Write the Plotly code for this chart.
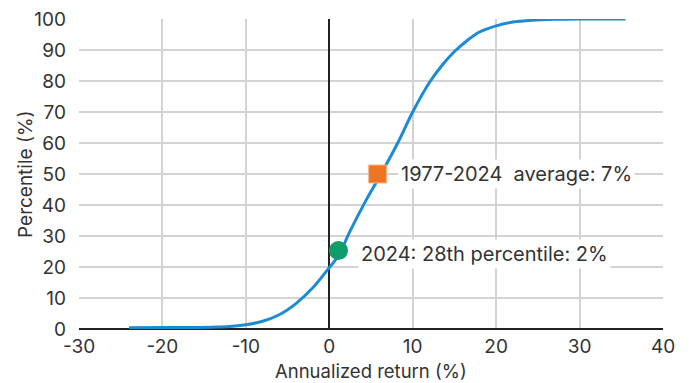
import plotly.graph_objects as go

# Cumulative distribution of annualized returns
returns = [-24, -20, -16, -14, -12, -10, -8, -6, -4, -2, 0, 1.2, 2.3, 4.3, 6.2, 8.2, 10,
           12, 13.5, 15, 16.5, 18, 20, 22, 24.3, 27, 30, 35.5]
percentiles = [0.4, 0.45, 0.5, 0.6, 0.8, 1.4, 2.5, 4.6, 8.2, 13.2, 19.8, 24, 30.5, 41, 50, 60, 70,
               79.5, 85, 89.5, 93, 95.8, 97.8, 99, 99.6, 99.9, 100, 100]

avg_point = [5.8, 50]
avg_label = "1977-2024  average: 7%"
cur_point = [1.1, 25.3]
cur_label = "2024: 28th percentile: 2%"

x_ticks = [-30, -20, -10, 0, 10, 20, 30, 40]
y_ticks = [0, 10, 20, 30, 40, 50, 60, 70, 80, 90, 100]
x_title = "Annualized return (%)"
y_title = "Percentile (%)"

FONT = "Inter"
TXT = "#333333"
fig = go.Figure()
fig.add_trace(go.Scatter(x=returns, y=percentiles, mode="lines",
                         line=dict(color="#1b8bd6", width=3, shape="spline", smoothing=0.9),
                         hoverinfo="skip", showlegend=False))
fig.add_trace(go.Scatter(x=[avg_point[0]], y=[avg_point[1]], mode="markers",
                         marker=dict(symbol="square", size=18, color="#ee7623",
                                     line=dict(color="#f5b58a", width=1)),
                         showlegend=False))
fig.add_trace(go.Scatter(x=[cur_point[0]], y=[cur_point[1]], mode="markers",
                         marker=dict(symbol="circle", size=19, color="#0f9d6a",
                                     line=dict(width=0)),
                         showlegend=False))

fig.add_annotation(x=avg_point[0], y=avg_point[1], text=avg_label, showarrow=False,
                   xanchor="left", yanchor="middle", xshift=20, bgcolor="white",
                   borderpad=2, font=dict(family=FONT, size=20, color=TXT))
fig.add_annotation(x=cur_point[0], y=cur_point[1], text=cur_label, showarrow=False,
                   xanchor="left", yanchor="middle", xshift=20, yshift=-3, bgcolor="white",
                   borderpad=2, font=dict(family=FONT, size=20, color=TXT))

# axis titles placed as paper annotations
fig.add_annotation(xref="paper", yref="paper", x=0.5, y=-0.136, text=x_title,
                   showarrow=False, xanchor="center", yanchor="middle",
                   font=dict(family=FONT, size=18.5, color=TXT))
fig.add_annotation(xref="paper", yref="paper", x=-0.0925, y=0.5, text=y_title,
                   showarrow=False, xanchor="center", yanchor="middle", textangle=-90,
                   font=dict(family=FONT, size=19, color=TXT))

# the page body adds an 8px offset, so the figure is sized to fit the window
fig.update_layout(
    width=683, height=375,
    margin=dict(l=71, r=28, t=11, b=54, autoexpand=False),
    paper_bgcolor="white", plot_bgcolor="white",
    font=dict(family=FONT, size=19, color=TXT),
    xaxis=dict(range=[-30, 40], tickvals=x_ticks, ticktext=[str(v) for v in x_ticks],
               showgrid=True, gridcolor="#d3d3d3", gridwidth=1.5,
               zeroline=True, zerolinecolor="#222222", zerolinewidth=2,
               showline=False, ticks="", ticklabelstandoff=4, automargin=False,
               ticklabeloverflow="allow"),
    yaxis=dict(range=[0, 100], tickvals=y_ticks, ticktext=[str(v) for v in y_ticks],
               showgrid=True, gridcolor="#d3d3d3", gridwidth=1.5,
               zeroline=True, zerolinecolor="#222222", zerolinewidth=2,
               showline=False, ticks="", ticklabelstandoff=12, automargin=False,
               ticklabeloverflow="allow"),
)
fig.write_html("out.html")
